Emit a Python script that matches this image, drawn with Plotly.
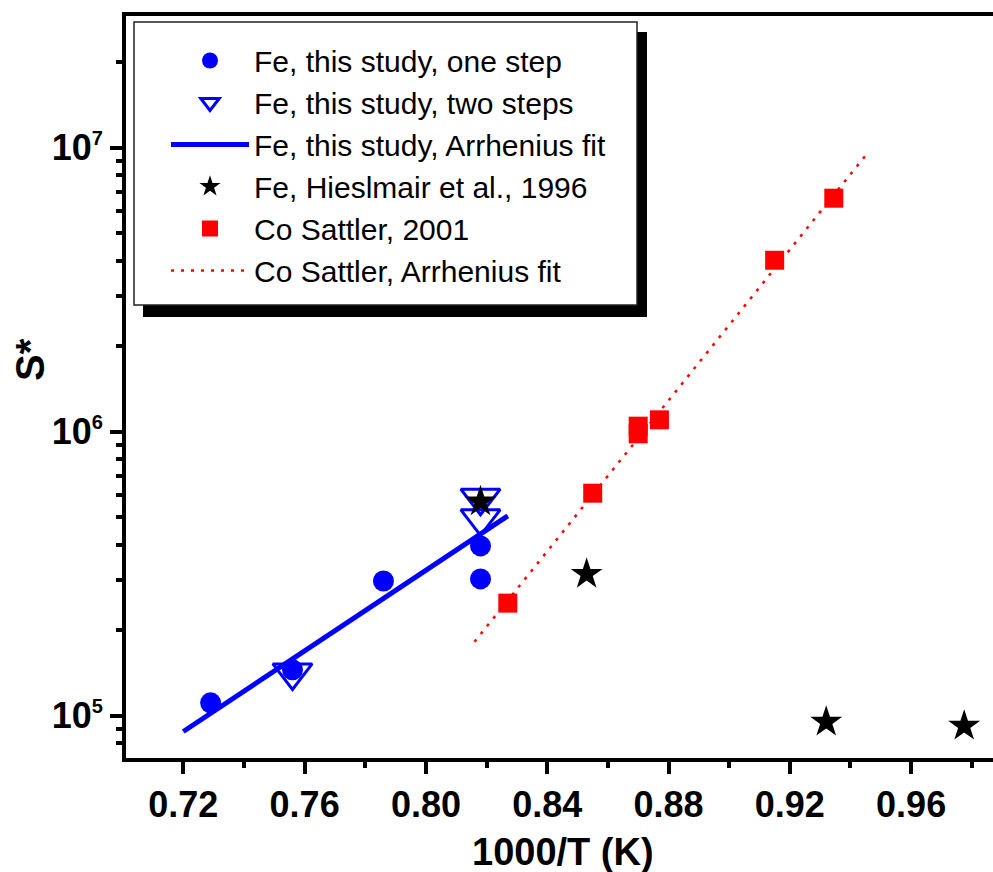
import plotly.graph_objects as go

# ---------------- data ----------------
one_step_x = [0.729, 0.756, 0.786, 0.818, 0.818]
one_step_y = [1.11e5, 1.45e5, 2.98e5, 3.96e5, 3.03e5]

two_steps_x = [0.756, 0.818, 0.818]
two_steps_y = [1.42e5, 5.85e5, 4.95e5]

fe_fit_x = [0.720, 0.827]
fe_fit_y = [8.8e4, 5.05e5]

hieslmair_x = [0.818, 0.853, 0.932, 0.9775]
hieslmair_y = [5.67e5, 3.15e5, 9.5e4, 9.2e4]

co_x = [0.827, 0.855, 0.870, 0.870, 0.877, 0.915, 0.9345]
co_y = [2.49e5, 6.07e5, 1.045e6, 9.82e5, 1.10e6, 4.01e6, 6.63e6]

co_fit_x = [0.816, 0.946]
co_fit_y = [1.82e5, 9.67e6]

x_ticks = [0.72, 0.76, 0.80, 0.84, 0.88, 0.92, 0.96]
x_tick_labels = ["0.72", "0.76", "0.80", "0.84", "0.88", "0.92", "0.96"]
x_minor = [0.74, 0.78, 0.82, 0.86, 0.90, 0.94, 0.98]

y_ticks = [1e5, 1e6, 1e7]
y_tick_labels = ["10<sup><span style='font-size:20px'>5</span></sup>",
                 "10<sup><span style='font-size:20px'>6</span></sup>",
                 "10<sup><span style='font-size:20px'>7</span></sup>"]
y_minor = [k * 10 ** e for e in (4, 5, 6, 7) for k in range(2, 10)]

names = ["Fe, this study, one step",
         "Fe, this study, two steps",
         "Fe, this study, Arrhenius fit",
         "Fe, Hieslmair et al., 1996",
         "Co Sattler, 2001",
         "Co Sattler, Arrhenius fit"]

# ---------------- layout geometry ----------------
W, H = 993, 872
L, R, T, B = 126, 0, 16, 114
PW, PH = W - L - R, H - T - B
FONT = "Liberation Sans, Arial, sans-serif"


def px(xp):
    return (xp - L) / PW


def py(yp):
    return (H - B - yp) / PH


BLUE = "#0000FF"
RED = "#FF0000"

fig = go.Figure()
fig.add_trace(go.Scatter(x=one_step_x, y=one_step_y, mode="markers", name=names[0],
                         marker=dict(symbol="circle", size=21, color=BLUE, line=dict(width=0))))
fig.add_trace(go.Scatter(x=two_steps_x, y=two_steps_y, mode="markers", name=names[1],
                         marker=dict(symbol="triangle-down-open", size=34, color=BLUE,
                                     line=dict(width=3, color=BLUE))))
fig.add_trace(go.Scatter(x=fe_fit_x, y=fe_fit_y, mode="lines", name=names[2],
                         line=dict(color=BLUE, width=5)))
fig.add_trace(go.Scatter(x=hieslmair_x, y=hieslmair_y, mode="markers", name=names[3],
                         marker=dict(symbol="star", size=24, color="black", line=dict(width=0))))
fig.add_trace(go.Scatter(x=co_x, y=co_y, mode="markers", name=names[4],
                         marker=dict(symbol="square", size=19, color=RED, line=dict(width=0))))
fig.add_trace(go.Scatter(x=co_fit_x, y=co_fit_y, mode="lines", name=names[5],
                         line=dict(color=RED, width=2.5, dash="3px,7px")))

axis_common = dict(showgrid=False, zeroline=False, showline=True, linewidth=4,
                   linecolor="black", ticks="outside", ticklen=12, tickwidth=4,
                   tickcolor="black",
                   tickfont=dict(family=FONT, size=36, color="black", weight="bold"))

fig.update_layout(
    width=W, height=H,
    margin=dict(l=L, r=R, t=T, b=B, pad=0),
    paper_bgcolor="white", plot_bgcolor="white",
    showlegend=True,
    xaxis=dict(range=[0.7011, 0.9870], mirror=True, tickmode="array",
               tickvals=x_ticks, ticktext=x_tick_labels, ticklabelstandoff=0,
               minor=dict(tickvals=x_minor, ticks="outside", ticklen=6, tickwidth=4,
                          tickcolor="black"),
               **axis_common),
    yaxis=dict(type="log", range=[4.8511, 7.4629], mirror=False, tickmode="array",
               tickvals=y_ticks, ticktext=y_tick_labels, ticklabelstandoff=0,
               minor=dict(tickvals=y_minor, ticks="outside", ticklen=6, tickwidth=4,
                          tickcolor="black"),
               **axis_common),
    yaxis2=dict(type="log", range=[4.8511, 7.4629], overlaying="y", side="right",
                anchor="x", showline=False, showgrid=False, zeroline=False,
                ticks="inside", ticklen=6, tickwidth=4, tickcolor="black",
                tickmode="array", tickvals=y_ticks, showticklabels=False,
                minor=dict(tickvals=y_minor, ticks="inside", ticklen=4, tickwidth=1,
                           tickcolor="#999999")),
    legend=dict(x=px(166), y=py(34.5), xanchor="left", yanchor="top",
                bgcolor="rgba(0,0,0,0)", borderwidth=0, itemwidth=78,
                tracegroupgap=0,
                font=dict(family=FONT, size=30, color="black")),
    shapes=[
        dict(type="rect", xref="paper", yref="paper", layer="above",
             x0=px(143), x1=px(647), y0=py(317), y1=py(32),
             fillcolor="black", line=dict(width=0)),
        dict(type="rect", xref="paper", yref="paper", layer="above",
             x0=px(134), x1=px(637), y0=py(305), y1=py(22),
             fillcolor="white", line=dict(color="#222222", width=1.5)),
    ],
    annotations=[
        dict(text="<b>1000/T (K)</b>", xref="paper", yref="paper",
             x=px(563), y=py(852), xanchor="center", yanchor="middle",
             showarrow=False, font=dict(family=FONT, size=38, color="black")),
        dict(text="<b>S*</b>", xref="paper", yref="paper", textangle=-90,
             x=px(30), y=py(360), xanchor="center", yanchor="middle",
             showarrow=False, font=dict(family=FONT, size=40, color="black")),
    ],
)

fig.write_html("out.html")
